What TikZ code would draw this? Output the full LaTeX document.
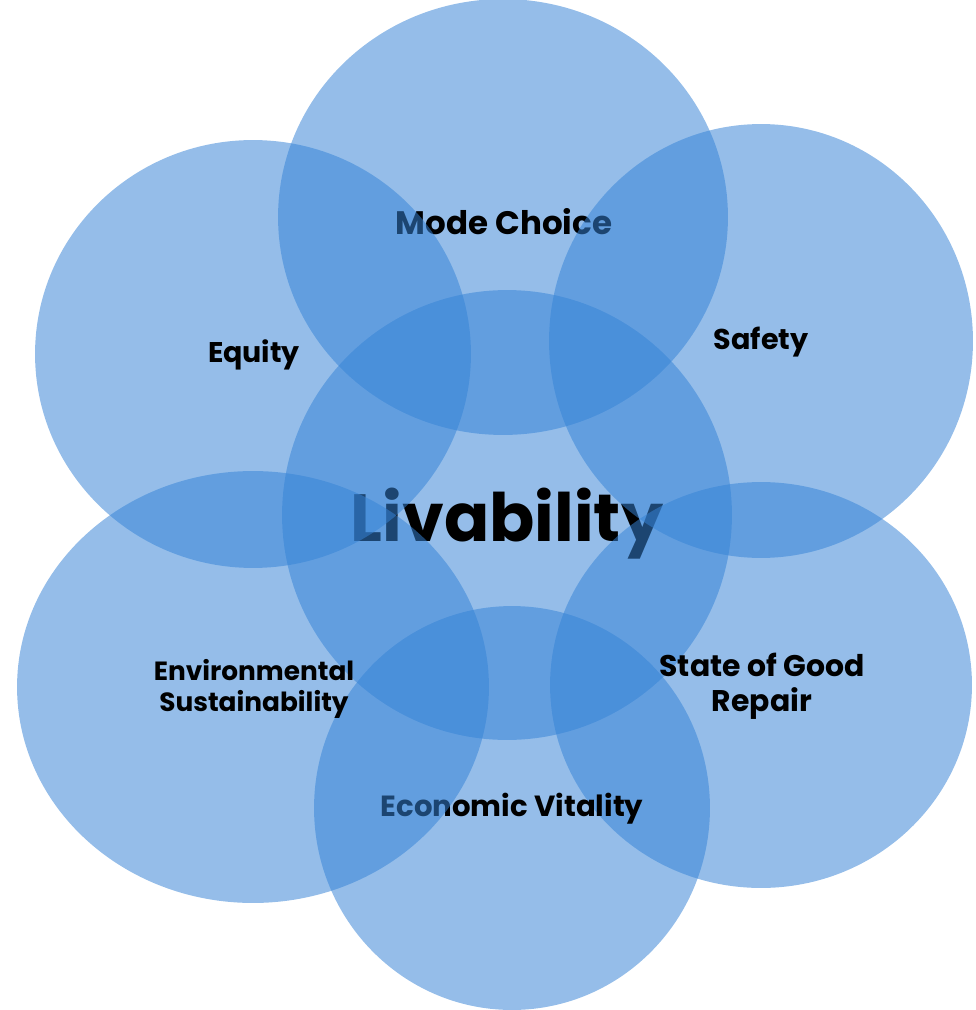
\documentclass[tikz,border=0pt]{standalone}
\usepackage{fontspec}
\setmainfont{Poppins}
\usetikzlibrary{shapes}

\definecolor{vennblue}{RGB}{54,131,214}

\begin{document}
\begin{tikzpicture}[x = 0.02cm, y = -0.02cm, font=\bfseries]
	\tikzstyle{ringStyle}=[shape = ellipse, inner sep = 0pt, fill = vennblue, fill opacity = 0.53]
	\tikzstyle{labelStyle}=[inner sep = 0pt, align = center]
	\useasboundingbox (0,0) rectangle (976,1010);
	% hub first, petals on top; every label right after its ring
	\node[ringStyle, minimum width = 9.00cm, minimum height = 9.00cm] (live) at (507,515) {};
	\node[labelStyle, anchor = base, font = \fontsize{38}{38}\selectfont\bfseries] (liveText) at (507,541) {Livability};
	\node[ringStyle, minimum width = 9.00cm, minimum height = 8.72cm] (mode) at (503,217) {};
	\node[labelStyle, font = \fontsize{18.5}{22}\selectfont\bfseries] (modeText) at (504,222) {Mode Choice};
	\node[ringStyle, minimum width = 8.48cm, minimum height = 8.68cm] (safety) at (761,341) {};
	\node[labelStyle, font = \fontsize{16.3}{20}\selectfont\bfseries] (safetyText) at (761,342) {Safety};
	\node[ringStyle, minimum width = 8.44cm, minimum height = 8.12cm] (repair) at (761,685) {};
	\node[labelStyle, font = \fontsize{17}{20}\selectfont\bfseries] (repairText) at (762,686) {State of Good\\Repair};
	\node[ringStyle, minimum width = 7.92cm, minimum height = 8.08cm] (econ) at (512,808) {};
	\node[labelStyle, font = \fontsize{16.6}{20}\selectfont\bfseries] (econText) at (512,809) {Economic Vitality};
	\node[ringStyle, minimum width = 9.44cm, minimum height = 8.64cm] (env) at (253,687) {};
	\node[labelStyle, font = \fontsize{15}{18}\selectfont\bfseries] (envText) at (254,689) {Environmental\\Sustainability};
	\node[ringStyle, minimum width = 8.72cm, minimum height = 8.56cm] (equity) at (253,354) {};
	\node[labelStyle, font = \fontsize{16.2}{20}\selectfont\bfseries] (equityText) at (254,355) {Equity};
\end{tikzpicture}
\end{document}
